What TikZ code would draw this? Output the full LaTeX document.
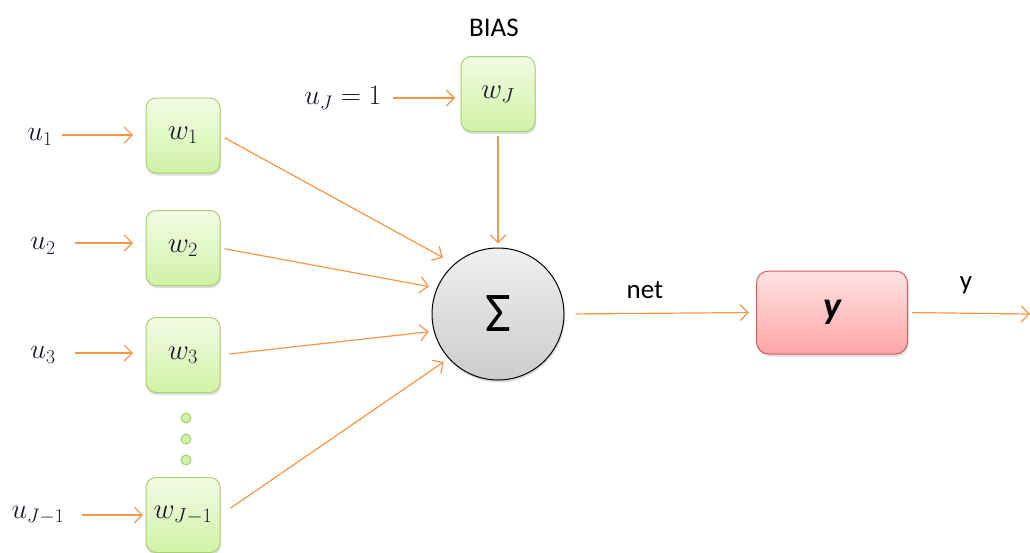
\RequirePackage{fix-cm}
\documentclass[tikz,border=0pt]{standalone}
\usepackage{amsmath}
\usepackage{fontspec}
\newfontfamily\calib{Carlito}
\usetikzlibrary{arrows.meta,shadows}
\definecolor{arr}{RGB}{247,150,70}
\definecolor{gtop}{RGB}{242,252,228}
\definecolor{gbot}{RGB}{208,242,166}
\definecolor{gline}{RGB}{168,208,112}
\definecolor{rtop}{RGB}{255,226,226}
\definecolor{rbot}{RGB}{255,166,166}
\definecolor{rline}{RGB}{205,96,96}
\definecolor{mtext}{RGB}{20,25,45}
\tikzset{
  wbox/.style={draw=gline, line width=1pt, rounded corners=10pt, minimum width=74pt, minimum height=75pt, inner sep=0pt,
    top color=gtop, bottom color=gbot, drop shadow={shadow xshift=1pt, shadow yshift=-2.5pt, opacity=0.25},
    text=mtext, font=\fontsize{29}{31}\selectfont},
  dotn/.style={circle, draw=gline, line width=1pt, fill=gbot, minimum size=10pt, inner sep=0pt},
  conn/.style={draw=arr, line width=1.2pt, -{Straight Barb[length=8pt, width=16pt, line width=1.2pt]}},
  lab/.style={font=\fontsize{28}{30}\selectfont, inner sep=0pt, text=mtext},
  txt/.style={font=\calib\fontsize{27}{29}\selectfont}
}
\begin{document}
\begin{tikzpicture}[x=1pt,y=1pt]
\useasboundingbox (0,0) rectangle (1030,-552);
% weight boxes
\node[wbox] (w1) at (183,-135.5) {$w_1$};
\node[wbox] (w2) at (183,-248) {$w_2$};
\node[wbox] (w3) at (183,-355) {$w_3$};
\node[wbox] (wj1) at (183,-515) {$w_{J-1}$};
\node[wbox] (wj) at (498,-94) {$w_J$};
% dots
\node[dotn] (d1) at (186,-418) {};
\node[dotn] (d2) at (186,-439) {};
\node[dotn] (d3) at (186,-460) {};
% sum
\node[circle, draw=black, line width=1pt, minimum size=132pt, inner sep=0pt,
  top color=white!94!black, bottom color=white!80!black,
  drop shadow={shadow xshift=1pt, shadow yshift=-2.5pt, opacity=0.25},
  font=\calib\fontsize{56}{58}\selectfont] (sum) at (498,-314) {Σ};
% output box
\node[draw=rline, line width=1pt, rounded corners=12pt, minimum width=151pt, minimum height=83pt,
  top color=rtop, bottom color=rbot, drop shadow={shadow xshift=1pt, shadow yshift=-2.5pt, opacity=0.25},
  font=\calib\bfseries\itshape\fontsize{38}{40}\selectfont] (out) at (832,-312.5) {y};
% input labels
\node[lab] (u1) at (40,-137) {$u_1$};
\node[lab] (u2) at (43,-246) {$u_2$};
\node[lab] (u3) at (43,-355) {$u_3$};
\node[lab] (uj1) at (38,-515) {$u_{J-1}$};
\node[lab] (uj) at (343,-98) {$u_J = 1$};
\node[txt] (bias) at (494,-28) {BIAS};
\node[txt] (net) at (645,-290) {net};
\node[txt] (ylab) at (966,-285) {y};
\coordinate (end) at (1030,-314);
% arrows
\draw[conn] (62,-135) -- (133,-135);
\draw[conn] (75,-243) -- (133,-243);
\draw[conn] (75,-353) -- (133,-353);
\draw[conn] (82,-515) -- (143,-515);
\draw[conn] (393,-98) -- (455,-98);
\draw[conn, shorten <=4pt, shorten >=4pt] (wj.south) -- (sum.north);
\draw[conn, shorten <=5pt, shorten >=13pt] (w1.east) -- (sum.131);
\draw[conn, shorten <=4pt, shorten >=8pt] (w2.east) -- (sum.157);
\draw[conn, shorten <=9pt, shorten >=5pt] (w3.east) -- (sum.195);
\draw[conn, shorten <=12pt, shorten >=6pt] (wj1.east) -- (sum.222);
\draw[conn, shorten <=11pt, shorten >=7pt] (sum.east) -- (out.west);
\draw[conn, shorten <=4pt] (out.east) -- (end);
\end{tikzpicture}
\end{document}
